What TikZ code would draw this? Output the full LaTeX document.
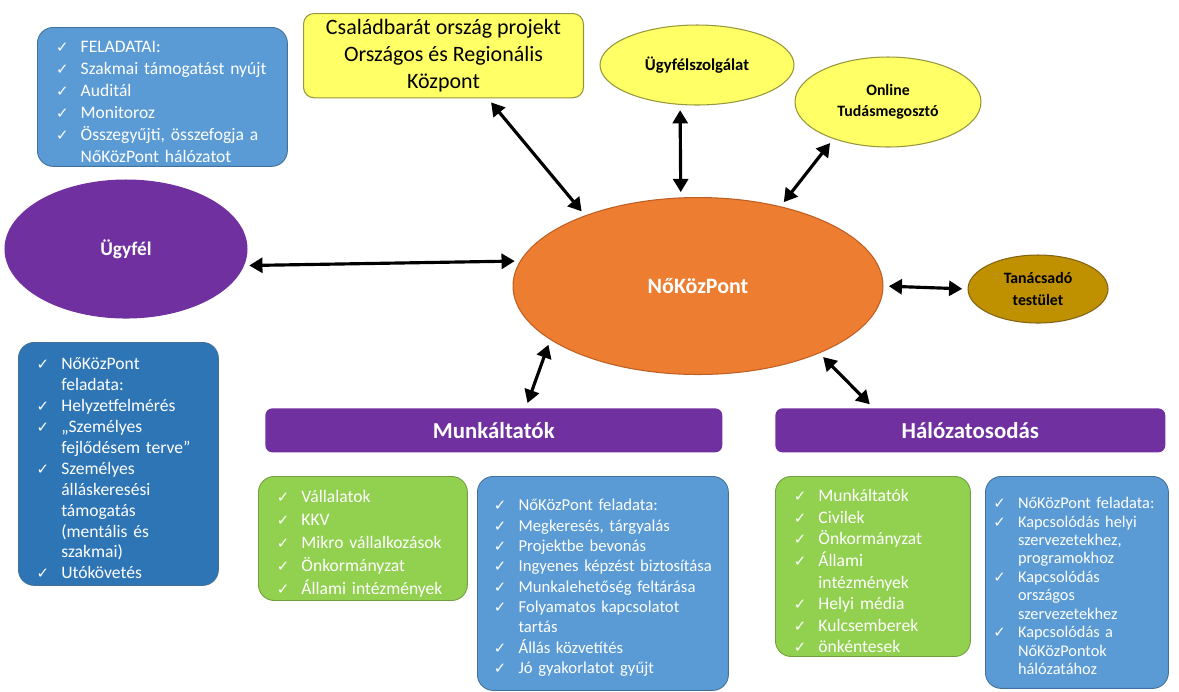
\documentclass[tikz,border=0pt]{standalone}
\usepackage{fontspec}
\setmainfont{Carlito}
\newfontfamily\symfont{DejaVu Sans}
\usetikzlibrary{arrows.meta,shapes.geometric}

\definecolor{boxblue}{RGB}{91,155,213}
\definecolor{deepblue}{RGB}{46,117,182}
\definecolor{edgeblue}{RGB}{65,113,156}
\definecolor{leaf}{RGB}{146,208,80}
\definecolor{leafedge}{RGB}{112,160,64}
\definecolor{plum}{RGB}{112,48,160}
\definecolor{hubor}{RGB}{237,125,49}
\definecolor{hubedge}{RGB}{190,95,35}
\definecolor{lemon}{RGB}{255,255,102}
\definecolor{olivedge}{RGB}{150,150,60}
\definecolor{ochre}{RGB}{191,144,0}
\definecolor{ochreedge}{RGB}{130,100,20}

\hyphenpenalty=10000
\exhyphenpenalty=10000

% one ticked line of a list
\newcommand{\ckitem}{\par\noindent\hangindent=14pt\hangafter=1\hbox to 14pt{\symfont\fontsize{8.5}{8.5}\selectfont ✓\hss}}

\begin{document}
\begin{tikzpicture}[x=0.02cm,y=-0.02cm,>={Triangle[length=7.5pt,width=8.5pt]},
  link/.style={<->,line width=1.8pt,shorten <=3pt,shorten >=3pt},
  listbox/.style={draw=edgeblue,line width=0.5pt,rounded corners=9pt,anchor=north west,
    text=white,align=left,inner xsep=10pt,inner ysep=2pt},
  oval/.style={ellipse,line width=0.6pt,inner sep=0pt,align=center},
  bar/.style={fill=plum,rounded corners=4pt,anchor=north west,text=white,
    font=\fontsize{13}{15}\selectfont\bfseries}]
\useasboundingbox (0,0) rectangle (1179,691);

% ---------- upper row ----------
\node[listbox,fill=boxblue,minimum width=5cm,minimum height=2.76cm,text width=121pt,
  font=\fontsize{10}{12.5}\selectfont] (tasks) at (37,27)
  {\ckitem FELADATAI:
   \ckitem Szakmai támogatást nyújt
   \ckitem Auditál
   \ckitem Monitoroz
   \ckitem Összegyűjti, összefogja a\newline NőKözPont hálózatot\par};
\node[anchor=north west,draw=olivedge,fill=lemon,line width=0.6pt,rounded corners=6pt,
  minimum width=5.6cm,minimum height=1.68cm,align=center,
  font=\fontsize{12.5}{15.3}\selectfont] (cfp) at (303,13)
  {Családbarát ország projekt\\Országos és Regionális\\Központ};
\node[oval,draw=olivedge,fill=lemon,minimum width=3.88cm,minimum height=1.6cm,
  font=\fontsize{9.5}{11}\selectfont\bfseries] (service) at (697,65) {Ügyfélszolgálat};
\node[oval,draw=olivedge,fill=lemon,minimum width=3.72cm,minimum height=1.8cm,
  font=\fontsize{9}{12}\selectfont\bfseries] (online) at (888,102) {Online\\Tudásmegosztó};

% ---------- middle row ----------
\node[oval,draw=plum,fill=plum,text=white,minimum width=4.84cm,minimum height=2.76cm,
  font=\fontsize{11}{13}\selectfont\bfseries] (client) at (126,249) {Ügyfél};
\node[oval,draw=hubedge,fill=hubor,text=white,minimum width=7.4cm,minimum height=3.54cm,
  font=\fontsize{12.5}{14}\selectfont\bfseries] (hub) at (698,286) {NőKözPont};
\node[oval,draw=ochreedge,fill=ochre,minimum width=2.8cm,minimum height=1.36cm,
  font=\fontsize{9}{12}\selectfont\bfseries] (board) at (1038,289) {Tanácsadó\\testület};

% ---------- lower part ----------
\node[listbox,fill=deepblue,minimum width=4cm,minimum height=4.86cm,text width=93pt,
  font=\fontsize{10}{11.9}\selectfont] (clienttasks) at (18,342)
  {\ckitem NőKözPont\newline feladata:
   \ckitem Helyzetfelmérés
   \ckitem „Személyes\newline fejlődésem terve”
   \ckitem Személyes\newline álláskeresési\newline támogatás\newline (mentális és\newline szakmai)
   \ckitem Utókövetés\par};

\node[bar,minimum width=9.14cm,minimum height=0.88cm] (employers) at (265,408) {Munkáltatók};
\node[listbox,draw=leafedge,fill=leaf,minimum width=4.18cm,minimum height=2.44cm,text width=98pt,
  font=\fontsize{10}{13}\selectfont] (firms) at (258,476)
  {\ckitem Vállalatok
   \ckitem KKV
   \ckitem Mikro vállalkozások
   \ckitem Önkormányzat
   \ckitem Állami intézmények\par};
\node[listbox,fill=boxblue,minimum width=5.02cm,minimum height=4.28cm,text width=124pt,inner xsep=9pt,
  font=\fontsize{9.5}{11.6}\selectfont] (firmtasks) at (477,476)
  {\ckitem NőKözPont feladata:
   \ckitem Megkeresés, tárgyalás
   \ckitem Projektbe bevonás
   \ckitem Ingyenes képzést biztosítása
   \ckitem Munkalehetőség feltárása
   \ckitem Folyamatos kapcsolatot\newline tartás
   \ckitem Állás közvetítés
   \ckitem Jó gyakorlatot gyűjt\par};

\node[bar,minimum width=7.8cm,minimum height=0.88cm] (network) at (775,408) {Hálózatosodás};
\node[listbox,draw=leafedge,fill=leaf,minimum width=3.9cm,minimum height=3.52cm,text width=90pt,
  font=\fontsize{10}{12.3}\selectfont] (partners) at (775,476)
  {\ckitem Munkáltatók
   \ckitem Civilek
   \ckitem Önkormányzat
   \ckitem Állami\newline intézmények
   \ckitem Helyi média
   \ckitem Kulcsemberek
   \ckitem önkéntesek\par};
\node[listbox,fill=boxblue,minimum width=3.66cm,minimum height=4.24cm,text width=95pt,inner xsep=4.3pt,
  font=\fontsize{9.3}{10.5}\selectfont] (nettasks) at (985,476)
  {\ckitem NőKözPont feladata:
   \ckitem Kapcsolódás helyi\newline szervezetekhez,\newline programokhoz
   \ckitem Kapcsolódás\newline országos\newline szervezetekhez
   \ckitem Kapcsolódás a\newline NőKözPontok\newline hálózatához\par};

% ---------- connectors ----------
\draw[link] (cfp.-44) -- (hub.148);
\draw[link] (service.-113) -- (hub.101);
\draw[link] (online.214) -- (hub.44);
\draw[link] (client.-8) -- (hub.172);
\draw[link] (hub.east) -- (board.west);
\draw[link] (hub.200) -- (employers.35);
\draw[link] (hub.-29) -- (network.167);
\end{tikzpicture}
\end{document}
